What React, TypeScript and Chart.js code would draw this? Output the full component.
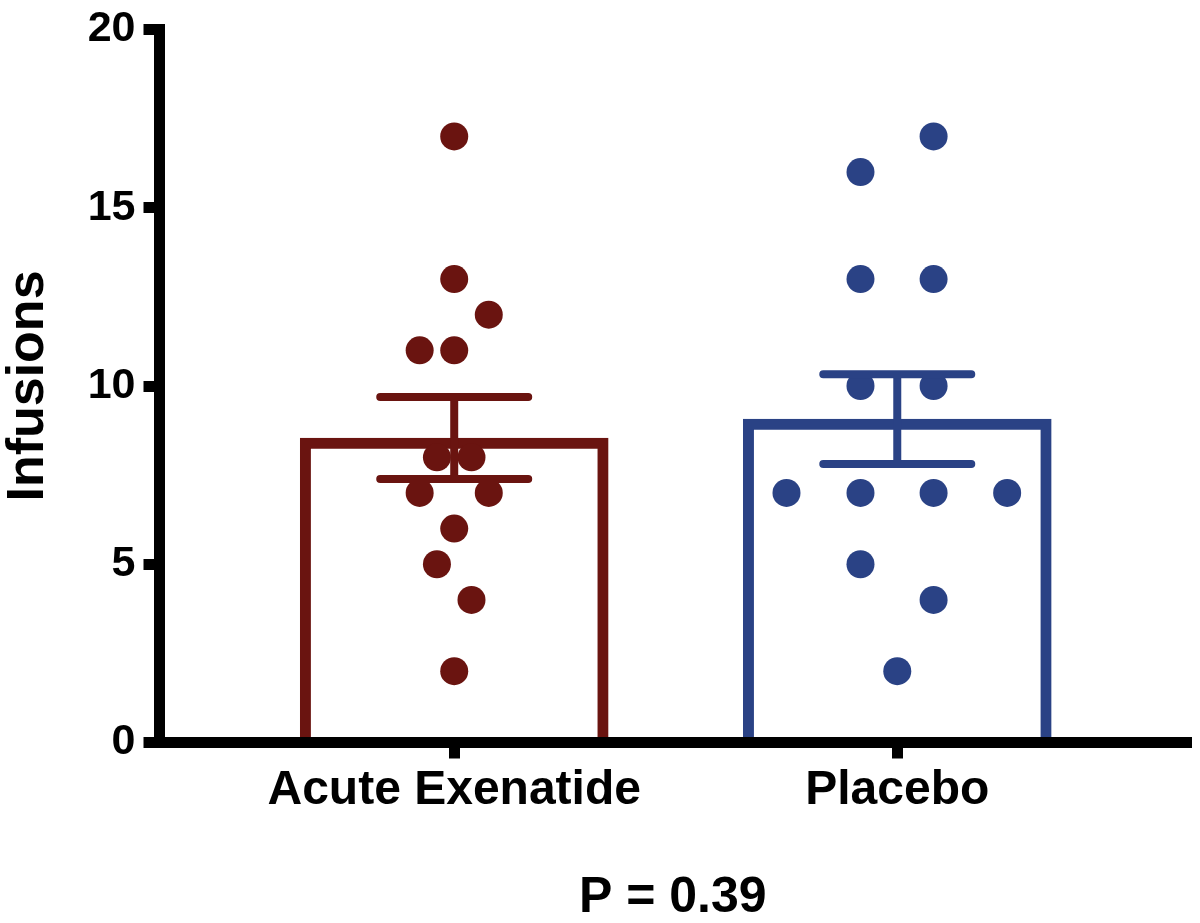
import React, { useEffect, useRef } from 'react';
import { Chart, registerables } from 'chart.js';

Chart.register(...registerables);

// ---- Data ----
const categories = ['Acute Exenatide', 'Placebo'];
const means = [8.54, 9.07];
const sems = [1.15, 1.26];

const exenatideValues = [17, 13, 12, 11, 11, 8, 8, 7, 7, 6, 5, 4, 2];
const exenatideJitter = [0, 0, 0.078, -0.078, 0, -0.039, 0.039, -0.078, 0.078, 0, -0.039, 0.039, 0];

const placeboValues = [17, 16, 13, 13, 10, 10, 7, 7, 7, 7, 5, 4, 2];
const placeboJitter = [0.082, -0.083, -0.083, 0.082, -0.083, 0.082, -0.25, -0.083, 0.082, 0.248, -0.083, 0.082, 0];

const yMin = 0;
const yMax = 20;
const yStep = 5;
const yAxisTitle = 'Infusions';
const xAxisTitle = 'P = 0.39';

const groupColors = ['#6a1410', '#2a4285'];
const FONT = "'Liberation Sans', Arial, Helvetica, sans-serif";

const errorBarPlugin = {
  id: 'errorBars',
  afterDatasetsDraw(chart: any) {
    const { ctx } = chart;
    const xs = chart.scales.x;
    const ys = chart.scales.y;
    ctx.save();
    categories.forEach((_, i) => {
      const cx = xs.getPixelForValue(i);
      const top = ys.getPixelForValue(means[i] + sems[i]);
      const bot = ys.getPixelForValue(means[i] - sems[i]);
      const half = 74;
      ctx.strokeStyle = groupColors[i];
      ctx.lineWidth = 8;
      ctx.lineCap = 'butt';
      ctx.beginPath();
      ctx.moveTo(cx, top);
      ctx.lineTo(cx, bot);
      ctx.stroke();
      ctx.lineCap = 'round';
      ctx.beginPath();
      ctx.moveTo(cx - half, top);
      ctx.lineTo(cx + half, top);
      ctx.moveTo(cx - half, bot);
      ctx.lineTo(cx + half, bot);
      ctx.stroke();
    });
    ctx.restore();
  },
};

export default function App() {
  const canvasRef = useRef<HTMLCanvasElement | null>(null);

  useEffect(() => {
    if (!canvasRef.current) return;
    const chart = new Chart(canvasRef.current, {
      type: 'bar',
      data: {
        datasets: [
          {
            type: 'scatter',
            data: exenatideValues.map((v, k) => ({ x: 0 + exenatideJitter[k], y: v })),
            backgroundColor: groupColors[0],
            borderWidth: 0,
            pointRadius: 14,
            pointHoverRadius: 14,
          } as any,
          {
            type: 'scatter',
            data: placeboValues.map((v, k) => ({ x: 1 + placeboJitter[k], y: v })),
            backgroundColor: groupColors[1],
            borderWidth: 0,
            pointRadius: 14,
            pointHoverRadius: 14,
          } as any,
          {
            type: 'bar',
            data: means.map((m, i) => ({ x: i, y: m })),
            backgroundColor: '#ffffff',
            borderColor: groupColors,
            borderWidth: 11,
            borderSkipped: 'start',
            barThickness: 308,
          } as any,
        ],
      },
      options: {
        responsive: false,
        animation: false,
        devicePixelRatio: 1,
        layout: { padding: { left: 0, top: 24.5, right: 9.5, bottom: 0 } },
        plugins: {
          legend: { display: false },
          tooltip: { enabled: false },
        },
        scales: {
          x: {
            type: 'linear',
            min: -0.6652,
            max: 1.6517,
            offset: false,
            grid: {
              display: true,
              offset: false,
              drawOnChartArea: false,
              drawTicks: true,
              tickLength: 16,
              lineWidth: 11,
              color: '#000',
            },
            border: { display: true, width: 11, color: '#000', z: 1 },
            afterBuildTicks: (scale: any) => {
              scale.ticks = categories.map((_, i) => ({ value: i }));
            },
            afterFit: (scale: any) => {
              scale.height = 180.5;
            },
            ticks: {
              color: '#000',
              padding: 3,
              maxRotation: 0,
              autoSkip: false,
              font: { family: FONT, size: 48, weight: 'bold' },
              callback: (_v: any, idx: number) => categories[idx],
            },
            title: {
              display: true,
              text: xAxisTitle,
              color: '#000',
              font: { family: FONT, size: 50, weight: 'bold', lineHeight: 1 },
              padding: { top: 0, bottom: 0 },
            },
          },
          y: {
            type: 'linear',
            min: yMin,
            max: yMax,
            grid: {
              display: true,
              drawOnChartArea: false,
              drawTicks: true,
              tickLength: 16,
              lineWidth: 11,
              color: '#000',
            },
            border: { display: true, width: 11, color: '#000' },
            afterFit: (scale: any) => {
              scale.width = 159.5;
            },
            ticks: {
              stepSize: yStep,
              color: '#000',
              padding: 8,
              font: { family: FONT, size: 43, weight: 'bold', lineHeight: 1 },
            },
            title: {
              display: true,
              text: yAxisTitle,
              color: '#000',
              font: { family: FONT, size: 52, weight: 'bold', lineHeight: 1.1 },
              padding: { top: 0, bottom: 0 },
            },
          },
        },
      },
      plugins: [errorBarPlugin],
    });
    return () => chart.destroy();
  }, []);

  return (
    <div style={{ position: 'fixed', left: 0, top: 0, width: 1200, height: 923, background: '#fff' }}>
      <canvas ref={canvasRef} width={1200} height={923} style={{ display: 'block' }} />
    </div>
  );
}
